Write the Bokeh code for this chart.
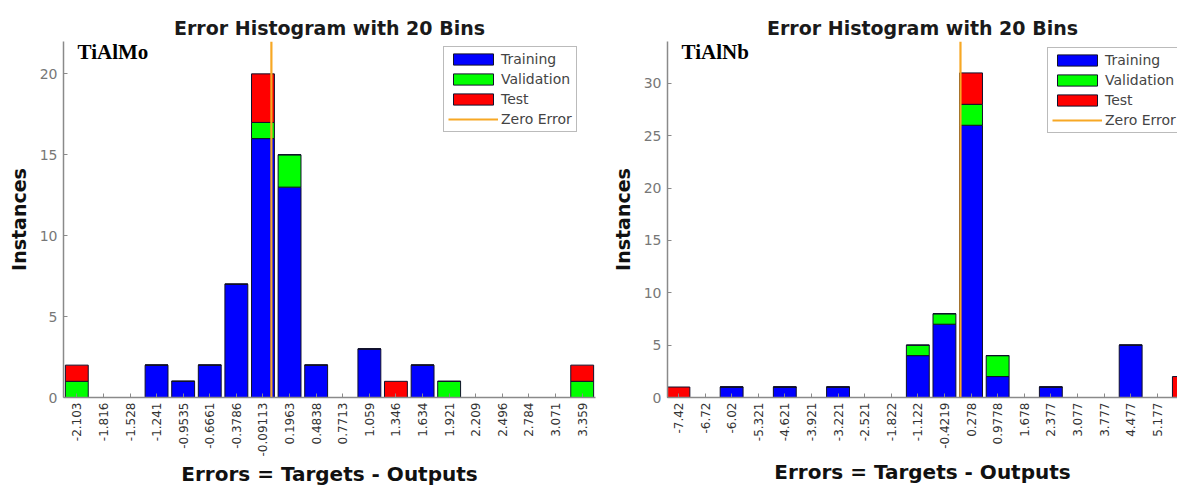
import math
from bokeh.plotting import figure
from bokeh.models import FixedTicker, Range1d, Label, ColumnDataSource
from bokeh.layouts import row
from bokeh.embed import file_html
from bokeh.resources import INLINE

# ---------------- data ----------------
stack_names = ["Training", "Validation", "Test"]
stack_colors = ["#0000FF", "#00FF00", "#FF0000"]
zero_color = "#F7A825"

mo_bins = ["-2.103", "-1.816", "-1.528", "-1.241", "-0.9535", "-0.6661", "-0.3786",
           "-0.09113", "0.1963", "0.4838", "0.7713", "1.059", "1.346", "1.634",
           "1.921", "2.209", "2.496", "2.784", "3.071", "3.359"]
mo_training = [0, 0, 0, 2, 1, 2, 7, 16, 13, 2, 0, 3, 0, 2, 0, 0, 0, 0, 0, 0]
mo_validation = [1, 0, 0, 0, 0, 0, 0, 1, 2, 0, 0, 0, 0, 0, 1, 0, 0, 0, 0, 1]
mo_test = [1, 0, 0, 0, 0, 0, 0, 3, 0, 0, 0, 0, 1, 0, 0, 0, 0, 0, 0, 1]
mo_y_ticks = [0, 5, 10, 15, 20]

nb_bins = ["-7.42", "-6.72", "-6.02", "-5.321", "-4.621", "-3.921", "-3.221",
           "-2.521", "-1.822", "-1.122", "-0.4219", "0.278", "0.9778", "1.678",
           "2.377", "3.077", "3.777", "4.477", "5.177", "5.877"]
nb_training = [0, 0, 1, 0, 1, 0, 1, 0, 0, 4, 7, 26, 2, 0, 1, 0, 0, 5, 0, 0]
nb_validation = [0, 0, 0, 0, 0, 0, 0, 0, 0, 1, 1, 2, 2, 0, 0, 0, 0, 0, 0, 0]
nb_test = [1, 0, 0, 0, 0, 0, 0, 0, 0, 0, 0, 3, 0, 0, 0, 0, 0, 0, 0, 2]
nb_y_ticks = [0, 5, 10, 15, 20, 25, 30]


def make_hist(name, bins, tr, va, te, ymax, yticks, width, borders,
              pad_left, n_visible_bins, title_offset, legend_loc, xlabel_standoff):
    xs = [float(b) for b in bins]
    step = (xs[-1] - xs[0]) / (len(xs) - 1)
    x_start = xs[0] - pad_left * step
    x_end = x_start + n_visible_bins * step
    bl, br, bt, bb = borders
    src = ColumnDataSource(dict(x=xs, Training=tr, Validation=va, Test=te))
    p = figure(width=width, height=489, x_range=Range1d(x_start, x_end),
               y_range=Range1d(0, ymax), output_backend="svg",
               toolbar_location=None, title="Error Histogram with 20 Bins",
               min_border_left=bl, min_border_right=br,
               min_border_top=bt, min_border_bottom=bb)
    p.vbar_stack(stack_names, x="x", width=0.86 * step, source=src,
                 fill_color=stack_colors, line_color="#10102a", line_width=1,
                 legend_label=stack_names)
    p.line([0, 0], [0, ymax], line_color=zero_color, line_width=2.2,
           legend_label="Zero Error")

    p.title.text_font = "DejaVu Sans"
    p.title.text_font_style = "bold"
    p.title.text_font_size = "19px"
    p.title.text_color = "#1a1a1a"
    p.title.align = "center"
    p.title.offset = title_offset
    p.title.standoff = 5

    p.xgrid.visible = False
    p.ygrid.visible = False
    p.outline_line_color = None

    p.xaxis.ticker = FixedTicker(ticks=xs)
    overrides = {}
    for xv, lbl in zip(xs, bins):
        overrides[xv] = lbl
        overrides[str(xv)] = lbl
    p.xaxis.major_label_overrides = overrides
    p.xaxis.major_label_orientation = math.pi / 2
    p.xaxis.major_label_text_font = "DejaVu Sans"
    p.xaxis.major_label_text_font_size = "12px"
    p.xaxis.major_label_text_color = "#333333"
    p.xaxis.major_label_standoff = 5
    p.xaxis.axis_label = "Errors = Targets - Outputs"
    p.xaxis.axis_label_text_font = "DejaVu Sans"
    p.xaxis.axis_label_text_font_style = "bold"
    p.xaxis.axis_label_text_font_size = "20px"
    p.xaxis.axis_label_text_color = "#111111"
    p.xaxis.axis_label_standoff = xlabel_standoff

    p.yaxis.ticker = FixedTicker(ticks=yticks)
    p.yaxis.major_label_text_font = "DejaVu Sans"
    p.yaxis.major_label_text_font_size = "14px"
    p.yaxis.major_label_text_color = "#777777"
    p.yaxis.major_label_standoff = 6
    p.yaxis.axis_label = "Instances"
    p.yaxis.axis_label_text_font = "DejaVu Sans"
    p.yaxis.axis_label_text_font_style = "bold"
    p.yaxis.axis_label_text_font_size = "19px"
    p.yaxis.axis_label_text_color = "#111111"
    p.yaxis.axis_label_standoff = 7

    for ax in (p.xaxis, p.yaxis):
        ax.axis_line_color = "#8a8a8a"
        ax.axis_line_width = 1.5
        ax.major_tick_in = 4
        ax.major_tick_out = 0
        ax.major_tick_line_color = "#8a8a8a"
        ax.minor_tick_line_color = None

    leg = p.legend[0]
    leg.location = legend_loc
    leg.glyph_width = 50
    leg.glyph_height = 14
    leg.label_height = 14
    leg.spacing = 4
    leg.padding = 4
    leg.margin = 0
    leg.label_standoff = 3
    leg.label_text_font = "DejaVu Sans"
    leg.label_text_font_size = "14px"
    leg.label_text_color = "#444444"
    leg.border_line_color = "#777777"
    leg.border_line_width = 1
    leg.background_fill_color = "white"
    leg.background_fill_alpha = 1.0

    p.add_layout(Label(x=14, y=ymax, y_offset=2, x_units="screen",
                       text=name, text_font="Liberation Serif",
                       text_font_style="bold", text_font_size="21px",
                       text_color="black", text_baseline="top"))
    return p


left = make_hist("TiAlMo", mo_bins, mo_training, mo_validation, mo_test,
                 22, mo_y_ticks, 608, (63, 13, 39, 91), 0.5, 20, 0, (380, 265), 3)
right = make_hist("TiAlNb", nb_bins, nb_training, nb_validation, nb_test,
                  34, nb_y_ticks, 569, (55, 0, 41, 88), 0.41, 19.17, 18, (380, 264), 8)

layout = row(left, right)
open("out.html", "w").write(file_html(layout, INLINE))
